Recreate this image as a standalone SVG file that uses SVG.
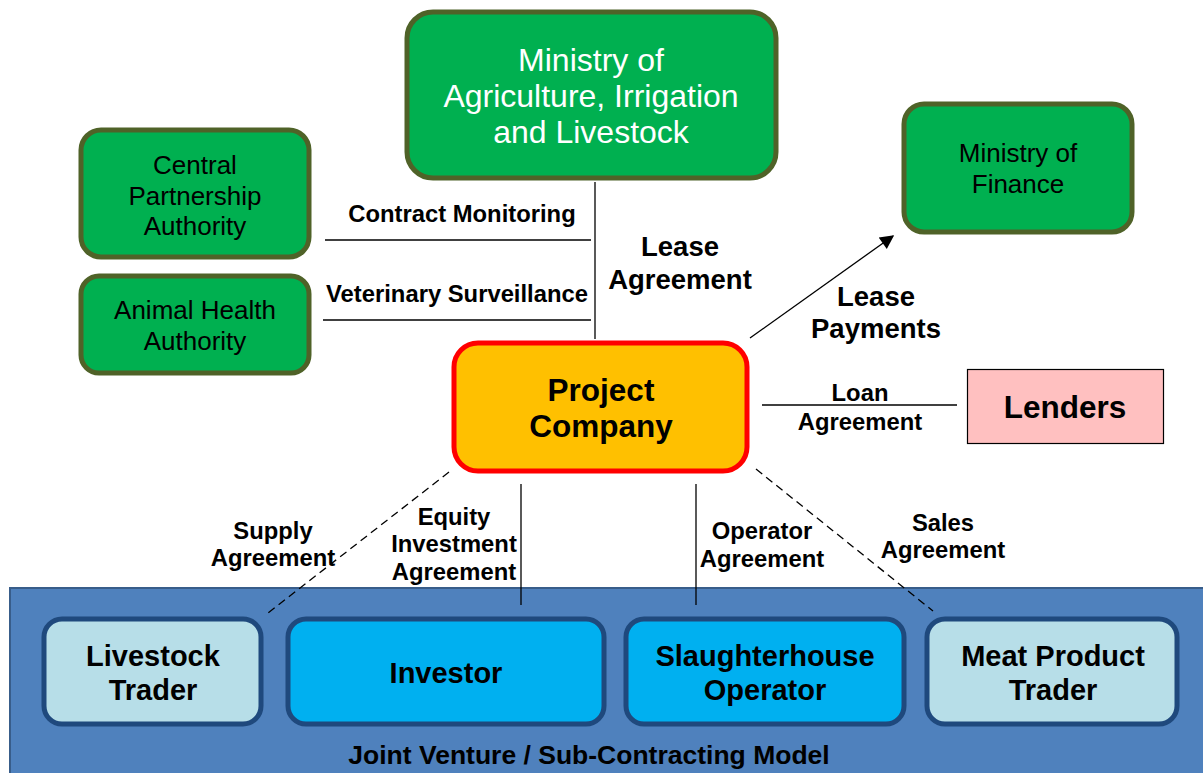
<svg xmlns="http://www.w3.org/2000/svg" width="1203" height="773" viewBox="0 0 1203 773">
  <style>
    text { font-family: "Liberation Sans", Arial, sans-serif; text-anchor: middle; }
    .gov { fill: #00B050; stroke: #4F6228; stroke-width: 5; }
    .gov-t { fill: #000; font-size: 26px; }
    .gov-w { fill: #fff; font-size: 32px; }
    .lbl { font-weight: bold; font-size: 23.8px; fill: #000; }
    .lbl-lg { font-weight: bold; font-size: 27.5px; fill: #000; }
    .jv { stroke: #1F497D; stroke-width: 5; }
    .jv-light { fill: #B7DEE8; }
    .jv-dark { fill: #00B0F0; }
    .jv-t { font-weight: bold; font-size: 29px; fill: #000; }
    .ln { stroke: #000; stroke-width: 1.3; fill: none; }
    .dash { stroke-dasharray: 8 5; }
  </style>
  <defs>
    <marker id="arrowhead" viewBox="0 0 10 10" refX="9" refY="5" markerWidth="18" markerHeight="14" markerUnits="userSpaceOnUse" orient="auto">
      <path d="M0,0 L10,5 L0,10 z" fill="#000"/>
    </marker>
  </defs>
  <rect width="1203" height="773" fill="#fff"/>

  <!-- joint venture band -->
  <g id="joint-venture">
    <rect x="10" y="588" width="1200" height="200" fill="#4F81BD" stroke="#385D8A" stroke-width="2"/>
    <text x="589" y="764" style="font-weight:bold;font-size:26.5px">Joint Venture / Sub-Contracting Model</text>
  </g>

  <!-- connectors -->
  <g id="connectors">
    <line class="ln" x1="595" y1="182" x2="595" y2="339"/>
    <line class="ln" x1="325" y1="240" x2="591" y2="240"/>
    <line class="ln" x1="323" y1="320" x2="591" y2="320"/>
    <line class="ln" x1="750" y1="338" x2="893" y2="236" stroke-width="2" marker-end="url(#arrowhead)"/>
    <line class="ln" x1="762" y1="405" x2="957" y2="405"/>
    <line class="ln dash" x1="449" y1="472" x2="268" y2="613"/>
    <line class="ln" x1="521" y1="484" x2="521" y2="605"/>
    <line class="ln" x1="696" y1="484" x2="696" y2="605"/>
    <line class="ln dash" x1="756" y1="469" x2="933" y2="611"/>
  </g>

  <!-- connector labels -->
  <g id="labels">
    <text class="lbl" x="462" y="222">Contract Monitoring</text>
    <text class="lbl" x="457" y="302">Veterinary Surveillance</text>
    <text class="lbl-lg" x="680" y="256">Lease</text>
    <text class="lbl-lg" x="680" y="289">Agreement</text>
    <text class="lbl-lg" x="876" y="306">Lease</text>
    <text class="lbl-lg" x="876" y="338">Payments</text>
    <text class="lbl" x="860" y="401">Loan</text>
    <text class="lbl" x="860" y="430">Agreement</text>
    <text class="lbl" x="273" y="539">Supply</text>
    <text class="lbl" x="273" y="566">Agreement</text>
    <text class="lbl" x="454" y="525">Equity</text>
    <text class="lbl" x="454" y="552">Investment</text>
    <text class="lbl" x="454" y="580">Agreement</text>
    <text class="lbl" x="762" y="539">Operator</text>
    <text class="lbl" x="762" y="567">Agreement</text>
    <text class="lbl" x="943" y="531">Sales</text>
    <text class="lbl" x="943" y="558">Agreement</text>
  </g>

  <g id="ministry-agriculture">
    <rect class="gov" x="407" y="12" width="369" height="166" rx="26"/>
    <text class="gov-w" x="591" y="71">Ministry of</text>
    <text class="gov-w" x="591" y="107">Agriculture, Irrigation</text>
    <text class="gov-w" x="591" y="143">and Livestock</text>
  </g>

  <g id="central-partnership-authority">
    <rect class="gov" x="81" y="130" width="228" height="127" rx="20"/>
    <text class="gov-t" x="195" y="174">Central</text>
    <text class="gov-t" x="195" y="205">Partnership</text>
    <text class="gov-t" x="195" y="235">Authority</text>
  </g>

  <g id="animal-health-authority">
    <rect class="gov" x="81" y="276" width="228" height="97" rx="18"/>
    <text class="gov-t" x="195" y="319">Animal Health</text>
    <text class="gov-t" x="195" y="350">Authority</text>
  </g>

  <g id="ministry-finance">
    <rect class="gov" x="904" y="104" width="228" height="128" rx="20"/>
    <text class="gov-t" x="1018" y="162">Ministry of</text>
    <text class="gov-t" x="1018" y="193">Finance</text>
  </g>

  <g id="project-company">
    <rect x="454" y="343" width="293" height="128" rx="24" fill="#FFC000" stroke="#FF0000" stroke-width="5"/>
    <text x="601" y="401" style="font-weight:bold;font-size:31.5px">Project</text>
    <text x="601" y="437" style="font-weight:bold;font-size:31.5px">Company</text>
  </g>

  <g id="lenders">
    <rect x="967.5" y="369.5" width="196" height="74" fill="#FFC0C0" stroke="#000" stroke-width="1.2"/>
    <text x="1065" y="418" style="font-weight:bold;font-size:31.5px">Lenders</text>
  </g>

  <g id="livestock-trader">
    <rect class="jv jv-light" x="44" y="619" width="217" height="105" rx="18"/>
    <text class="jv-t" x="153" y="666">Livestock</text>
    <text class="jv-t" x="153" y="700">Trader</text>
  </g>

  <g id="investor">
    <rect class="jv jv-dark" x="288" y="619" width="316" height="105" rx="18"/>
    <text class="jv-t" x="446" y="683">Investor</text>
  </g>

  <g id="slaughterhouse-operator">
    <rect class="jv jv-dark" x="626" y="619" width="278" height="105" rx="18"/>
    <text class="jv-t" x="765" y="666">Slaughterhouse</text>
    <text class="jv-t" x="765" y="700">Operator</text>
  </g>

  <g id="meat-product-trader">
    <rect class="jv jv-light" x="927" y="619" width="250" height="105" rx="18"/>
    <text class="jv-t" x="1053" y="666">Meat Product</text>
    <text class="jv-t" x="1053" y="700">Trader</text>
  </g>
</svg>
